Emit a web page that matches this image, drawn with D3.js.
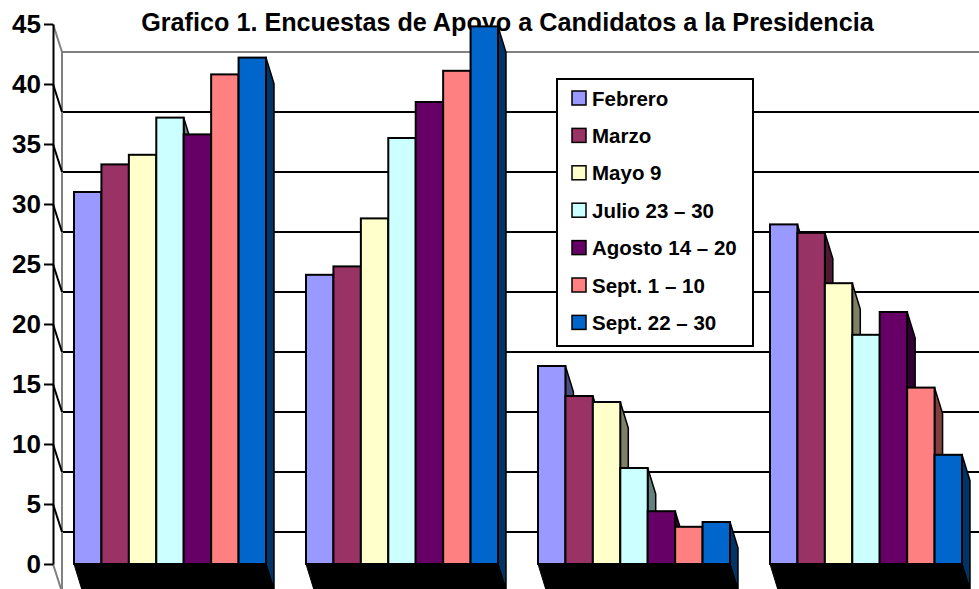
<!DOCTYPE html>
<html>
<head>
<meta charset="utf-8">
<script src="https://cdn.jsdelivr.net/npm/d3@7"></script>
<style>
  body { margin: 0; background: #fff; }
  text { font-family: "Liberation Sans", Arial, sans-serif; font-weight: bold; fill: #000; }
</style>
</head>
<body>
<div id="chart"></div>
<script>
// candidates (no labels shown on the original chart)
let groups = ["C1", "C2", "C3", "C4"];

let seriesNames = ["Febrero", "Marzo", "Mayo 9", "Julio 23 – 30", "Agosto 14 – 20", "Sept. 1 – 10", "Sept. 22 – 30"];
let seriesColors = ["#9999FF", "#993366", "#FFFFCC", "#CCFFFF", "#660066", "#FF8080", "#0066CC"];

// support (%) per candidate, one array per survey
let febrero = [31.0, 24.1, 16.5, 28.3];
let marzo   = [33.3, 24.8, 14.0, 27.6];
let mayo9   = [34.1, 28.8, 13.5, 23.4];
let julio   = [37.2, 35.5, 8.0, 19.1];
let agosto  = [35.8, 38.5, 4.4, 21.0];
let sept1   = [40.8, 41.1, 3.1, 14.7];
let sept22  = [42.2, 44.8, 3.5, 9.1];

let yTicks = [0, 5, 10, 15, 20, 25, 30, 35, 40, 45];

let seriesValues = [febrero, marzo, mayo9, julio, agosto, sept1, sept22];

let w = 979, h = 589;
let axisX = 53;
let wallDx = 9, wallDy = 28;   // left / back wall depth
let barDx = 8, barDy = 26;     // bar depth

let svg = d3.select("#chart").append("svg")
  .attr("width", w)
  .attr("height", h);

let y = d3.scaleLinear().domain([0, 45]).range([564, 24]);

let x0 = d3.scaleBand()
  .domain(groups)
  .range([54, 982])
  .paddingInner(40 / 232)
  .paddingOuter(20 / 232);

let x1 = d3.scaleBand()
  .domain(seriesNames)
  .range([0, x0.bandwidth()]);

// title (drawn first, the tallest bar overlaps it)
svg.append("text")
  .attr("x", 507.5)
  .attr("y", 31)
  .attr("text-anchor", "middle")
  .attr("font-size", "25.2px")
  .text("Grafico 1. Encuestas de Apoyo a Candidatos a la Presidencia");

// back wall gridlines
svg.append("g").selectAll("line")
  .data(yTicks)
  .enter()
  .append("line")
  .attr("x1", axisX + wallDx)
  .attr("x2", w)
  .attr("y1", function(d) { return y(d) + wallDy; })
  .attr("y2", function(d) { return y(d) + wallDy; })
  .attr("stroke", function(d) { return d === 45 ? "#808080" : "#000"; })
  .attr("stroke-width", 2);

// left wall: back edge + diagonal gridlines
svg.append("line")
  .attr("x1", axisX + wallDx).attr("x2", axisX + wallDx)
  .attr("y1", y(45) + wallDy).attr("y2", h)
  .attr("stroke", "#808080")
  .attr("stroke-width", 2);

svg.append("g").selectAll("line")
  .data(yTicks)
  .enter()
  .append("line")
  .attr("x1", axisX)
  .attr("x2", axisX + wallDx)
  .attr("y1", function(d) { return y(d); })
  .attr("y2", function(d) { return y(d) + wallDy; })
  .attr("stroke", function(d) { return (d === 45 || d === 0) ? "#808080" : "#000"; })
  .attr("stroke-width", 2);

// y axis
let yAxis = d3.axisLeft(y)
  .tickValues(yTicks)
  .tickSize(9)
  .tickSizeOuter(0)
  .tickPadding(3);

let gy = svg.append("g")
  .attr("transform", "translate(" + axisX + ",0)")
  .call(yAxis);
gy.select(".domain").attr("stroke", "#000").attr("stroke-width", 2);
gy.selectAll(".tick line").attr("stroke", "#000").attr("stroke-width", 2);
gy.selectAll(".tick text")
  .attr("font-size", "26px")
  .attr("font-family", "Liberation Sans, Arial, sans-serif")
  .attr("font-weight", "bold")
  .attr("fill", "#000");

// bars
let barData = [];
groups.forEach(function(g, gi) {
  seriesNames.forEach(function(s, si) {
    barData.push({ group: g, series: s, si: si, value: seriesValues[si][gi] });
  });
});

function shade(c) {
  let col = d3.rgb(c);
  return d3.rgb(col.r * 0.5, col.g * 0.5, col.b * 0.5).toString();
}

let base = y(0);
let bars = svg.append("g");

// right side faces first, then the black undersides, then the fronts
bars.selectAll("path.side")
  .data(barData)
  .enter()
  .append("path")
  .attr("class", "side")
  .attr("d", function(d) {
    let xr = x0(d.group) + x1(d.series) + x1.bandwidth(), yt = y(d.value);
    return "M" + xr + "," + yt + "L" + (xr + barDx) + "," + (yt + barDy) +
      "L" + (xr + barDx) + "," + (base + barDy) + "L" + xr + "," + base + "Z";
  })
  .attr("fill", function(d) { return shade(seriesColors[d.si]); })
  .attr("stroke", "#000")
  .attr("stroke-width", 1.5)
  .attr("stroke-linejoin", "round");

bars.selectAll("path.bottom")
  .data(barData)
  .enter()
  .append("path")
  .attr("class", "bottom")
  .attr("d", function(d) {
    let xl = x0(d.group) + x1(d.series), xr = xl + x1.bandwidth();
    return "M" + xl + "," + base + "L" + xr + "," + base +
      "L" + (xr + barDx) + "," + (base + barDy) + "L" + (xl + barDx) + "," + (base + barDy) + "Z";
  })
  .attr("fill", "#000")
  .attr("stroke", "#000")
  .attr("stroke-width", 1);

bars.selectAll("rect.front")
  .data(barData)
  .enter()
  .append("rect")
  .attr("class", "front")
  .attr("x", function(d) { return x0(d.group) + x1(d.series); })
  .attr("y", function(d) { return y(d.value); })
  .attr("width", x1.bandwidth())
  .attr("height", function(d) { return base - y(d.value); })
  .attr("fill", function(d) { return seriesColors[d.si]; })
  .attr("stroke", "#000")
  .attr("stroke-width", 2);

// legend
let legend = svg.append("g").attr("transform", "translate(557,79)");
legend.append("rect")
  .attr("width", 196)
  .attr("height", 267)
  .attr("fill", "#fff")
  .attr("stroke", "#000")
  .attr("stroke-width", 2);

let items = legend.selectAll("g.item")
  .data(seriesNames)
  .enter()
  .append("g")
  .attr("class", "item")
  .attr("transform", function(d, i) { return "translate(0," + (19 + i * 37.4) + ")"; });

items.append("rect")
  .attr("x", 15)
  .attr("y", -7)
  .attr("width", 14)
  .attr("height", 14)
  .attr("fill", function(d, i) { return seriesColors[i]; })
  .attr("stroke", "#000")
  .attr("stroke-width", 1.5);

items.append("text")
  .attr("x", 35)
  .attr("y", 7.5)
  .attr("font-size", "20.5px")
  .text(function(d) { return d; });
</script>
</body>
</html>
